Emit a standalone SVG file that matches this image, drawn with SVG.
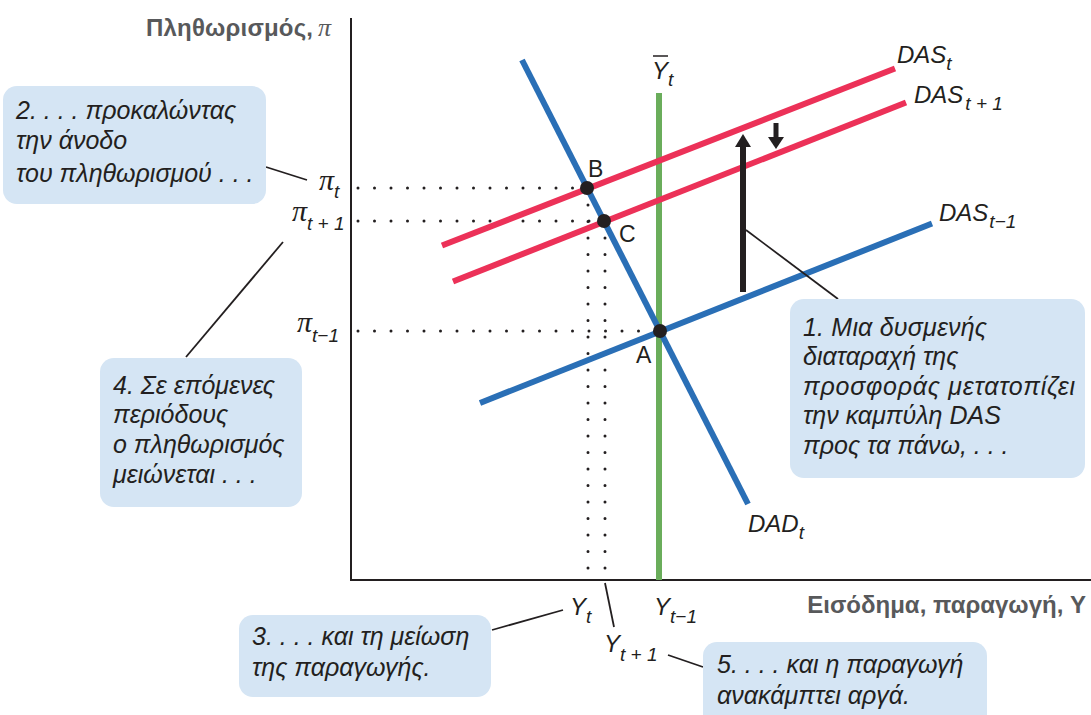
<svg xmlns="http://www.w3.org/2000/svg" width="1091" height="715" viewBox="0 0 1091 715">
<defs>
<style>
.box{fill:#D5E5F4;}
.ct{font-family:"Liberation Sans",Arial,sans-serif;font-style:italic;font-size:25px;fill:#231F20;}
.ax{font-family:"Liberation Sans",Arial,sans-serif;font-weight:bold;font-size:24px;fill:#58595B;}
.pi{font-family:"Liberation Serif","Times New Roman",serif;font-style:italic;font-size:30px;fill:#231F20;}
.lb{font-family:"Liberation Sans",Arial,sans-serif;font-style:italic;font-size:24px;fill:#231F20;}
.sub{font-family:"Liberation Sans",Arial,sans-serif;font-style:italic;font-size:19px;fill:#231F20;}
.pt{font-family:"Liberation Sans",Arial,sans-serif;font-size:23px;fill:#231F20;}
.red{stroke:#EC3158;stroke-width:6;fill:none;}
.blue{stroke:#2A6FB6;stroke-width:6;fill:none;}
.green{stroke:#6AAD5B;stroke-width:6;fill:none;}
.dot{stroke:#231F20;stroke-width:3;stroke-linecap:round;stroke-dasharray:0 16.5;fill:none;}
.lead{stroke:#231F20;stroke-width:1.8;fill:none;}
</style>
</defs>
<rect width="1091" height="715" fill="#FFFFFF"/>

<g id="axes">
<line x1="351" y1="18" x2="351" y2="581" stroke="#231F20" stroke-width="2"/>
<line x1="350" y1="580" x2="1091" y2="580" stroke="#231F20" stroke-width="2"/>
<text class="ax" x="146" y="36" textLength="167">Πληθωρισμός,</text>
<text class="pi" x="318" y="36" style="font-size:26px;fill:#58595B">π</text>
<text class="ax" x="1086" y="613" text-anchor="end">Εισόδημα, παραγωγή, Y</text>
</g>

<g id="guides">
<line class="dot" x1="358" y1="188" x2="587" y2="188"/>
<line class="dot" x1="358" y1="221" x2="604" y2="221"/>
<line class="dot" x1="358" y1="331" x2="660" y2="331"/>
<line class="dot" x1="588" y1="205" x2="588" y2="575"/>
<line class="dot" x1="605" y1="238" x2="605" y2="575"/>
</g>

<g id="curves">
<line id="Ybar" class="green" x1="659" y1="93" x2="659" y2="580"/>
<line id="DASt" class="red" x1="442" y1="245.5" x2="895" y2="68.5"/>
<line id="DASt1" class="red" x1="453" y1="281.5" x2="906" y2="102.5"/>
<line id="DAStm1" class="blue" x1="480" y1="403" x2="932" y2="223.5"/>
<line id="DADt" class="blue" x1="522" y1="60" x2="748" y2="504"/>
</g>

<g id="points">
<circle cx="587" cy="188" r="7" fill="#231F20"/>
<circle cx="604" cy="221" r="7" fill="#231F20"/>
<circle cx="660" cy="331" r="7" fill="#231F20"/>
<text class="pt" x="588" y="177">B</text>
<text class="pt" x="619" y="242">C</text>
<text class="pt" x="636" y="363">A</text>
</g>

<g id="shift-arrows">
<line x1="743" y1="292" x2="743" y2="144" stroke="#231F20" stroke-width="6"/>
<polygon points="743,134 735,147 751,147" fill="#231F20"/>
<line x1="776" y1="123" x2="776" y2="139" stroke="#231F20" stroke-width="5"/>
<polygon points="776,149 768,137 784,137" fill="#231F20"/>
</g>

<g id="curve-labels">
<text class="lb" x="897" y="63">DAS<tspan class="sub" dy="7">t</tspan></text>
<text class="lb" x="914" y="103">DAS<tspan class="sub" dy="7" dx="2">t + 1</tspan></text>
<text class="lb" x="939" y="221">DAS<tspan class="sub" dy="7" dx="1">t−1</tspan></text>
<text class="lb" x="748" y="532">DAD<tspan class="sub" dy="7">t</tspan></text>
<text class="lb" x="652" y="79">Y<tspan class="sub" dy="7">t</tspan></text>
<line x1="653" y1="56" x2="668" y2="56" stroke="#231F20" stroke-width="1.5"/>
</g>

<g id="tick-labels">
<text class="pi" x="319" y="190">π<tspan class="sub" dy="8">t</tspan></text>
<text class="pi" x="292" y="221">π<tspan class="sub" dy="9">t + 1</tspan></text>
<text class="pi" x="297" y="332">π<tspan class="sub" dy="10">t−1</tspan></text>
<text class="lb" x="570" y="615">Y<tspan class="sub" dy="8">t</tspan></text>
<text class="lb" x="654" y="615">Y<tspan class="sub" dy="8">t−1</tspan></text>
<text class="lb" x="604" y="652">Y<tspan class="sub" dy="9">t + 1</tspan></text>
</g>

<g id="leaders">
<line class="lead" x1="266" y1="167" x2="307" y2="180"/>
<line class="lead" x1="186" y1="357" x2="283" y2="242"/>
<line class="lead" x1="746" y1="230" x2="838" y2="299"/>
<line class="lead" x1="492" y1="630" x2="563" y2="610"/>
<line class="lead" x1="605" y1="583" x2="614" y2="627"/>
<line class="lead" x1="668" y1="655" x2="703" y2="667"/>
</g>

<g id="note1">
<rect class="box" x="790" y="299" width="295" height="179" rx="14"/>
<text class="ct" x="803" y="336" textLength="184">1. Μια δυσμενής</text>
<text class="ct" x="803" y="365">διαταραχή της</text>
<text class="ct" x="803" y="395" textLength="272">προσφοράς μετατοπίζει</text>
<text class="ct" x="803" y="424">την καμπύλη DAS</text>
<text class="ct" x="803" y="454">προς τα πάνω, . . .</text>
</g>

<g id="note2">
<rect class="box" x="3" y="86" width="263" height="118" rx="14"/>
<text class="ct" x="16" y="119">2. . . . προκαλώντας</text>
<text class="ct" x="16" y="149">την άνοδο</text>
<text class="ct" x="16" y="182">του πληθωρισμού . . .</text>
</g>

<g id="note3">
<rect class="box" x="239" y="615" width="252" height="82" rx="14"/>
<text class="ct" x="252" y="645">3. . . . και τη μείωση</text>
<text class="ct" x="252" y="676">της παραγωγής.</text>
</g>

<g id="note4">
<rect class="box" x="100" y="358" width="202" height="149" rx="14"/>
<text class="ct" x="113" y="394">4. Σε επόμενες</text>
<text class="ct" x="113" y="423">περιόδους</text>
<text class="ct" x="113" y="453">ο πληθωρισμός</text>
<text class="ct" x="113" y="483">μειώνεται . . .</text>
</g>

<g id="note5">
<rect class="box" x="703" y="642" width="284" height="90" rx="14"/>
<text class="ct" x="717" y="673">5. . . . και η παραγωγή</text>
<text class="ct" x="717" y="704">ανακάμπτει αργά.</text>
</g>
</svg>
